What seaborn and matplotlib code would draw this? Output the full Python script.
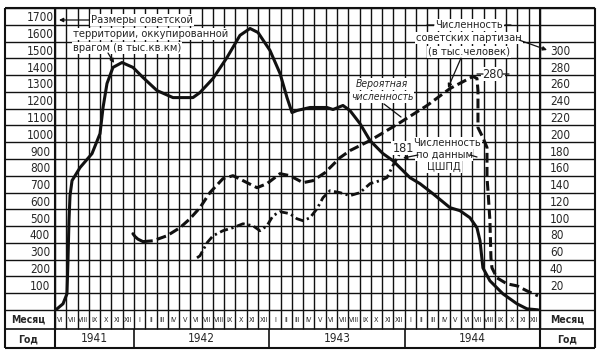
import numpy as np
import pandas as pd
import matplotlib
matplotlib.use("Agg")
import matplotlib.pyplot as plt
from matplotlib import font_manager as fm
import seaborn as sns

# ---------------- data (x in months from June 1941, 0..43) ----------------
terr_month = [0.18, 0.71, 1.06, 1.15, 1.24, 1.33, 1.51, 2.22, 3.28, 3.99, 4.26, 4.61, 5.14, 5.94,
              6.91, 7.80, 9.04, 10.46, 12.23, 12.85, 14.01, 15.25, 16.40, 17.29, 18.00, 19.06,
              19.95, 20.57, 21.01, 21.45, 22.61, 24.11, 24.65, 25.53, 26.15, 27.04, 27.93, 29.08,
              29.96, 31.47, 32.36, 33.51, 35.02, 35.90, 36.79, 37.41, 37.68, 37.94, 38.56, 39.72,
              40.96, 41.84, 42.82]
terr_value = [-43, -13, 46, 243, 482, 631, 721, 799, 882, 1001, 1157, 1300, 1396, 1425,
              1396, 1336, 1258, 1216, 1216, 1246, 1330, 1455, 1587, 1628, 1604, 1497,
              1360, 1216, 1127, 1139, 1157, 1157, 1145, 1169, 1139, 1061, 960, 882,
              840, 739, 703, 643, 560, 542, 500, 440, 363, 201, 124, 46,
              -13, -43, -49]

# probable number of partisans (thousand people), solid start then dashed
prob_start_month = [6.91, 7.10, 7.35, 7.80]
prob_start_value = [80.9, 77.5, 74.5, 71.5]
prob_month = [7.80, 8.69, 9.93, 11.08, 11.97, 12.85, 13.74, 14.89, 15.78, 16.67, 17.91, 18.79,
              19.95, 20.83, 21.99, 22.87, 23.94, 25.27, 26.15, 27.93, 29.43, 30.59, 32.98,
              35.02, 37.06, 37.41, 37.50, 37.50, 37.94, 38.30, 38.30, 38.39, 38.56, 38.65,
              38.74, 39.18, 40.07, 40.96, 41.84, 42.82]
prob_value = [71.5, 72.5, 78.5, 88.1, 98.8, 112, 130, 146.6, 150.1, 144.2, 135.8, 140.6,
              152.5, 150.1, 141.8, 144.2, 153.7, 171.6, 180.0, 192, 204, 213.4, 233.7,
              254, 268.4, 266, 251.6, 207.5, 195.5, 183.6, 147.8, 132, 96.4, 52.2,
              40.3, 28.4, 21.2, 18.8, 12.8, 6.9]

# number according to the Central HQ of partisan movement (ЦШПД)
cshpd_month = [12.59, 12.85, 13.48, 14.01, 14.89, 15.78, 16.67, 17.55, 18.17, 18.79, 19.33,
               19.95, 20.83, 21.45, 21.99, 22.61, 23.23, 23.76, 24.38, 25.27, 26.15, 27.04,
               27.93, 28.81, 29.43, 29.96, 30.50]
cshpd_value = [52.2, 54.6, 70.1, 78.5, 84.5, 88.1, 92.8, 90.4, 84.5, 90.4, 102.4,
               107.2, 104.8, 98.8, 96.4, 100, 110.7, 123.9, 132.2, 129.9, 126.3, 129.9,
               140.6, 144.2, 147.8, 162.1, 175.0]

roman = ["I", "II", "III", "IV", "V", "VI", "VII", "VIII", "IX", "X", "XI", "XII"]
month_labels = roman[5:] + roman * 3
years = ["1941", "1942", "1943", "1944"]
year_edges = [0, 7, 19, 31, 43]
left_ticks = list(range(100, 1800, 100))
right_ticks = list(range(20, 320, 20))

# ---------------- style ----------------
sns.set_style("white")

# pick a narrow / condensed face if one is installed
fam, stretch = "DejaVu Sans", "normal"
for key in ("LiberationSansNarrow-Regular", "DejaVuSansCondensed.ttf"):
    hits = [f for f in fm.fontManager.ttflist if key in f.fname]
    if hits:
        fam, stretch = hits[0].name, hits[0].stretch
        break
plt.rcParams["font.family"] = [fam, "DejaVu Sans"]
plt.rcParams["font.stretch"] = stretch
INK = "#111111"

W_PX, H_PX = 600, 355
fig = plt.figure(figsize=(6, 3.55), dpi=100)
fig.patch.set_facecolor("white")
AX_L, AX_R, AX_T, AX_B = 55, 540, 8, 310
ax = fig.add_axes([AX_L / W_PX, 1 - AX_B / H_PX, (AX_R - AX_L) / W_PX, (AX_B - AX_T) / H_PX])
ax.set_xlim(0, 43)
ax.set_ylim(-50, 1750)
ax2 = ax.twinx()
ax2.set_ylim(-10, 350)
for a in (ax, ax2):
    for s in a.spines.values():
        s.set_visible(False)
    a.set_facecolor("none")

def fxa(px):  # pixel x -> axes fraction
    return (px - AX_L) / (AX_R - AX_L)

def fya(py):  # pixel y -> axes fraction
    return (AX_B - py) / (AX_B - AX_T)

xt = ax.get_xaxis_transform()
yt = ax.get_yaxis_transform()
MON_B, YEAR_B = 329, 348
LEFT_EDGE, RIGHT_EDGE = 5, 595

# horizontal grid lines (extended across label columns)
hy = np.arange(-50, 1751, 100)
ax.hlines(hy, fxa(LEFT_EDGE), fxa(RIGHT_EDGE), transform=yt, color=INK, lw=1.0, clip_on=False, zorder=1)
# month row / year row lines
ax.hlines([fya(MON_B), fya(YEAR_B)], fxa(LEFT_EDGE), fxa(RIGHT_EDGE), transform=ax.transAxes,
          color=INK, lw=1.2, clip_on=False, zorder=1)
# vertical month lines (through month row)
ax.vlines(np.arange(0, 44), fya(MON_B), 1, transform=xt, color=INK, lw=1.0, clip_on=False, zorder=1)
# year separators
ax.vlines(year_edges, fya(YEAR_B), fya(MON_B), transform=xt, color=INK, lw=1.2, clip_on=False, zorder=1)
# outer column borders
ax.vlines([fxa(LEFT_EDGE), 0, 1, fxa(RIGHT_EDGE)], fya(YEAR_B), 1, transform=ax.transAxes,
          color=INK, lw=1.5, clip_on=False, zorder=1)
ax.hlines([1, fya(YEAR_B)], fxa(LEFT_EDGE), fxa(RIGHT_EDGE), transform=ax.transAxes,
          color=INK, lw=1.5, clip_on=False, zorder=1)

# ---------------- series ----------------
df_t = pd.DataFrame({"m": terr_month, "v": terr_value})
sns.lineplot(data=df_t, x="m", y="v", ax=ax, color=INK, lw=2.2, sort=False, estimator=None, zorder=4)
df_ps = pd.DataFrame({"m": prob_start_month, "v": prob_start_value})
sns.lineplot(data=df_ps, x="m", y="v", ax=ax2, color=INK, lw=2.2, sort=False, estimator=None, zorder=4)
df_p = pd.DataFrame({"m": prob_month, "v": prob_value})
sns.lineplot(data=df_p, x="m", y="v", ax=ax2, color=INK, lw=2.2, sort=False, estimator=None,
             linestyle=(0, (3.2, 1.4)), zorder=4)
df_c = pd.DataFrame({"m": cshpd_month, "v": cshpd_value})
sns.lineplot(data=df_c, x="m", y="v", ax=ax2, color=INK, lw=2.0, sort=False, estimator=None,
             linestyle=(0, (3.0, 1.3, 0.8, 1.3)), zorder=4)
for a in (ax, ax2):
    a.set_xlabel("")
    a.set_ylabel("")
    if a.get_legend():
        a.get_legend().remove()

# ---------------- ticks ----------------
ax.set_xticks(np.arange(43) + 0.5)
ax.set_xticklabels(month_labels, fontsize=5.2)
ax.tick_params(axis="x", length=0, pad=(320 - AX_B) * 0.72)
for lab in ax.get_xticklabels():
    lab.set_verticalalignment("center")

ax.set_yticks(left_ticks)
ax.set_yticklabels([str(v) for v in left_ticks], fontsize=8.5)
ax.tick_params(axis="y", length=0, pad=(AX_L - 40) * 0.72)
for lab in ax.get_yticklabels():
    lab.set_horizontalalignment("center")

ax2.set_xlim(0, 43)
ax2.set_yticks(right_ticks)
ax2.set_yticklabels([str(v) for v in right_ticks], fontsize=8.5)
ax2.tick_params(axis="y", length=0, pad=(550 - AX_R) * 0.72)

# year labels and row captions
for y0, y1, lab in zip(year_edges[:-1], year_edges[1:], years):
    ax.text((y0 + y1) / 2, fya(339), lab, transform=xt, ha="center", va="center", fontsize=8.5, clip_on=False)
for xx in (fxa(28), fxa(567)):
    ax.text(xx, fya(320), "Месяц", transform=ax.transAxes, ha="center", va="center",
            fontsize=7.5, fontweight="bold", clip_on=False)
    ax.text(xx, fya(339), "Год", transform=ax.transAxes, ha="center", va="center",
            fontsize=7.5, fontweight="bold", clip_on=False)

# ---------------- annotations (pixel placement) ----------------
def P(x, y):
    return (x, H_PX - y)

box = dict(facecolor="white", edgecolor="none", pad=0.6)

def label(x, y, s, ha="center", size=8, style="normal"):
    fig.text(x / W_PX, 1 - y / H_PX, s, ha=ha, va="center", fontsize=size, style=style,
             bbox=box, zorder=6)

label(91, 20, "Размеры советской", ha="left")
label(73, 34, "территории, оккупированной", ha="left")
label(73, 48, "врагом (в тыс.кв.км)", ha="left")

label(469, 25, "Численность")
label(469, 38, "советских партизан")
label(469, 52, "(в тыс.человек)")

label(382, 84, "Вероятная", size=7.5, style="italic")
label(382, 97, "численность", size=7.5, style="italic")

label(403, 148, "181", size=9)
label(447, 143, "Численность")
label(444, 155, "по данным")
label(444, 167, "ЦШПД")
label(493, 74, "280", size=9)

arrow = dict(arrowstyle="-|>", color=INK, lw=0.9, mutation_scale=6, shrinkA=0, shrinkB=0)
plain = dict(arrowstyle="-", color=INK, lw=0.9, shrinkA=0, shrinkB=0)

def lead(p0, p1, props):
    fig.add_artist(matplotlib.patches.FancyArrowPatch(P(*p0), P(*p1), transform=None, zorder=7, **props))

lead((89, 20), (59, 20), arrow)
lead((108, 53), (114, 63), arrow)
lead((519, 40), (547, 50), arrow)
lead((461, 58), (448, 88), arrow)
lead((384, 104), (401, 117), plain)
lead((418, 155), (403, 158), arrow)
lead((470, 155), (477, 157), plain)
lead((477, 74), (483, 74), plain)
lead((503, 74), (509, 74), plain)
lead((427, 25), (434, 25), plain)
lead((505, 25), (511, 25), plain)

fig.savefig("out.png", dpi=100, facecolor="white")
